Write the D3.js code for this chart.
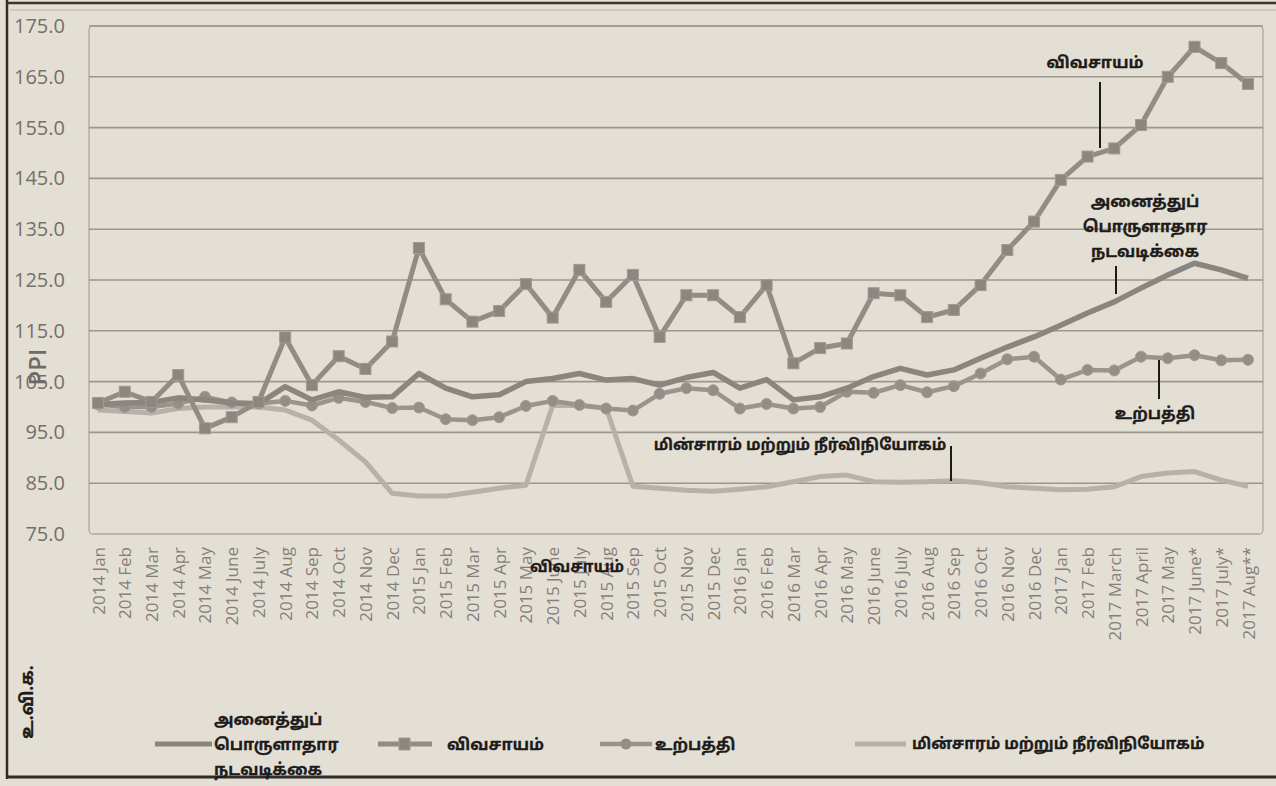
<!DOCTYPE html>
<html>
<head>
<meta charset="utf-8">
<script src="https://cdn.jsdelivr.net/npm/d3@7"></script>
<style>
  html, body { margin: 0; padding: 0; background: #e4dfd5; }
  svg { display: block; }
  .tam { font-family: "Noto Sans Tamil", "Latha", "Lohit Tamil", "Noto Sans", sans-serif; font-weight: bold; fill: #1e1c1a; stroke: #1e1c1a; stroke-width: 0.3; }
</style>
</head>
<body>
<svg id="chart" width="1276" height="786"></svg>
<script>
// ---------- data ----------
const categories = ["2014 Jan","2014 Feb","2014 Mar","2014 Apr","2014 May","2014 June","2014 July","2014 Aug","2014 Sep","2014 Oct","2014 Nov","2014 Dec",
  "2015 Jan","2015 Feb","2015 Mar","2015 Apr","2015 May","2015 June","2015 July","2015 Aug","2015 Sep","2015 Oct","2015 Nov","2015 Dec",
  "2016 Jan","2016 Feb","2016 Mar","2016 Apr","2016 May","2016 June","2016 July","2016 Aug","2016 Sep","2016 Oct","2016 Nov","2016 Dec",
  "2017 Jan","2017 Feb","2017 March","2017 April","2017 May","2017 June*","2017 July*","2017 Aug**"];

const economy = [100.5,100.8,100.9,101.8,101.4,100.8,100.6,104.0,101.4,103.0,101.9,102.0,
  106.6,103.7,102.0,102.4,105.0,105.6,106.6,105.3,105.6,104.3,105.8,106.8,
  103.7,105.4,101.4,102.0,103.7,106.0,107.6,106.3,107.3,109.6,111.8,113.8,
  116.1,118.5,120.7,123.4,126.0,128.3,127.0,125.3];

const agriculture = [100.8,103.0,101.0,106.3,95.8,98.0,101.0,113.7,104.3,110.0,107.5,112.9,
  131.3,121.2,116.8,118.9,124.2,117.6,127.0,120.7,126.0,113.8,122.0,122.0,
  117.7,124.0,108.6,111.6,112.5,122.4,122.0,117.7,119.1,124.0,130.9,136.5,
  144.7,149.3,150.9,155.5,165.0,170.9,167.7,163.6];

const manufacturing = [100.5,100.0,100.0,100.7,102.0,100.9,100.7,101.2,100.3,101.8,101.0,99.8,
  99.9,97.6,97.4,98.0,100.2,101.2,100.4,99.7,99.3,102.6,103.7,103.3,
  99.7,100.6,99.7,100.0,103.0,102.8,104.3,102.9,104.1,106.6,109.4,109.9,
  105.4,107.3,107.2,109.9,109.6,110.2,109.2,109.3];

const electricity = [99.4,99.1,98.8,99.7,100.0,100.0,100.0,99.4,97.4,93.5,89.2,83.0,
  82.5,82.5,83.2,84.0,84.6,100.3,100.3,99.8,84.4,84.0,83.6,83.4,
  83.8,84.3,85.3,86.3,86.6,85.3,85.2,85.3,85.5,85.1,84.3,84.0,
  83.7,83.8,84.3,86.3,87.0,87.3,85.6,84.4];

const yTicks = [75,85,95,105,115,125,135,145,155,165,175];

const legendNames = ["அனைத்துப் பொருளாதார நடவடிக்கை", "விவசாயம்", "உற்பத்தி", "மின்சாரம் மற்றும் நீர்விநியோகம்"];
const yAxisTitle = "PPI";
const sourceText = "உ.வி.க.";

// ---------- layout ----------
const svg = d3.select("#chart");
const plot = {left: 89, right: 1263, top: 26, bottom: 534};

const x = d3.scalePoint().domain(categories).range([98, 1248]);
const y = d3.scaleLinear().domain([75, 175]).range([534, 26]);

// frame
svg.append("line").attr("x1", 7).attr("x2", 7).attr("y1", 0).attr("y2", 779)
  .attr("stroke", "#2e2b28").attr("stroke-width", 2.5);
svg.append("line").attr("x1", 6).attr("x2", 1276).attr("y1", 3).attr("y2", 3)
  .attr("stroke", "#3a3733").attr("stroke-width", 2.5);
svg.append("line").attr("x1", 10).attr("x2", 1276).attr("y1", 10).attr("y2", 10)
  .attr("stroke", "#b9b3aa").attr("stroke-width", 1);
svg.append("line").attr("x1", 6).attr("x2", 1276).attr("y1", 777).attr("y2", 777)
  .attr("stroke", "#2e2b28").attr("stroke-width", 3);

// plot border
svg.append("rect").attr("x", plot.left).attr("y", plot.top)
  .attr("width", plot.right - plot.left).attr("height", plot.bottom - plot.top)
  .attr("rx", 4).attr("fill", "none").attr("stroke", "#aca69e").attr("stroke-width", 1.3);

// gridlines
svg.append("g").selectAll("line").data(yTicks.filter(t => t > 75)).join("line")
  .attr("x1", plot.left).attr("x2", plot.right)
  .attr("y1", d => y(d)).attr("y2", d => y(d))
  .attr("stroke", "#9c968f").attr("stroke-width", 1.6);

// y axis labels
const yAxis = d3.axisLeft(y).tickValues(yTicks).tickFormat(d3.format(".1f")).tickSize(0).tickPadding(0);
const gy = svg.append("g").attr("transform", "translate(65,0)").call(yAxis);
gy.select(".domain").remove();
gy.selectAll("text").attr("font-family", "'Open Sans', sans-serif").attr("font-size", 20)
  .attr("fill", "#746f69");

// x axis labels
const xAxis = d3.axisBottom(x).tickSize(0).tickPadding(0);
const gx = svg.append("g").attr("transform", `translate(0,${plot.bottom})`).call(xAxis);
gx.select(".domain").remove();
gx.selectAll("text")
  .attr("font-family", "'Open Sans', sans-serif").attr("font-size", 17).attr("fill", "#857f79")
  .attr("text-anchor", "end").attr("dy", null)
  .attr("transform", "translate(6,13) rotate(-90)")
  .attr("x", 0).attr("y", 0);

// y title
svg.append("text").attr("transform", "translate(46,367) rotate(-90)")
  .attr("text-anchor", "middle").attr("font-family", "'Open Sans', sans-serif")
  .attr("font-size", 24).attr("font-weight", 600).attr("fill", "#6f6a64").text(yAxisTitle);

// ---------- series ----------
const line = d3.line().x((d, i) => x(categories[i])).y(d => y(d));

svg.append("path").datum(electricity).attr("d", line).attr("fill", "none")
  .attr("stroke", "#b7b1a9").attr("stroke-width", 5).attr("stroke-linejoin", "round");

svg.append("path").datum(manufacturing).attr("d", line).attr("fill", "none")
  .attr("stroke", "#9a948e").attr("stroke-width", 4.5).attr("stroke-linejoin", "round");
svg.append("g").selectAll("circle").data(manufacturing).join("circle")
  .attr("cx", (d, i) => x(categories[i])).attr("cy", d => y(d)).attr("r", 5.5)
  .attr("fill", "#948e88").attr("stroke", "#a19b95").attr("stroke-width", 1);

svg.append("path").datum(economy).attr("d", line).attr("fill", "none")
  .attr("stroke", "#8b8580").attr("stroke-width", 5.5).attr("stroke-linejoin", "round");

svg.append("path").datum(agriculture).attr("d", line).attr("fill", "none")
  .attr("stroke", "#928c87").attr("stroke-width", 5).attr("stroke-linejoin", "round");
svg.append("g").selectAll("rect").data(agriculture).join("rect")
  .attr("x", (d, i) => x(categories[i]) - 5.5).attr("y", d => y(d) - 5.5)
  .attr("width", 11).attr("height", 11)
  .attr("fill", "#8c8681").attr("stroke", "#a09a94").attr("stroke-width", 1);

// ---------- annotations ----------
function ann(lines, cx, cy0, lh, size) {
  const t = svg.append("text").attr("class", "tam").attr("text-anchor", "middle")
    .attr("font-size", size);
  lines.forEach((s, k) => t.append("tspan").attr("x", cx).attr("y", cy0 + k * lh).attr("dy", "0.35em").text(s));
}
function leader(x0, y0, y1) {
  svg.append("line").attr("x1", x0).attr("x2", x0).attr("y1", y0).attr("y2", y1)
    .attr("stroke", "#1e1c1a").attr("stroke-width", 2);
}
const econWords = legendNames[0].split(" ");
ann([legendNames[1]], 1095, 62, 0, 16);
leader(1100, 82, 148);
ann(econWords, 1145, 201, 25, 16);
leader(1116, 266, 294);
ann([legendNames[2]], 1155, 413, 0, 16);
leader(1159, 360, 399);
ann([legendNames[3]], 800, 445, 0, 15.5);
leader(951, 446, 481);
ann([legendNames[1]], 577, 567, 0, 15.5);

// source
svg.append("text").attr("class", "tam").attr("font-size", 17)
  .attr("transform", "translate(27,702) rotate(-90)").attr("text-anchor", "middle")
  .attr("dy", "0.35em").text(sourceText);

// ---------- legend ----------
const lg = svg.append("g");
const ly = 744;
// item 1
lg.append("line").attr("x1", 155).attr("x2", 212).attr("y1", ly).attr("y2", ly)
  .attr("stroke", "#8b8580").attr("stroke-width", 5);
const t1 = lg.append("text").attr("class", "tam").attr("font-size", 16);
econWords.forEach((s, k) => t1.append("tspan").attr("x", 214).attr("y", ly - 25 + k * 25).attr("dy", "0.35em").text(s));
// item 2
lg.append("line").attr("x1", 378).attr("x2", 432).attr("y1", ly).attr("y2", ly)
  .attr("stroke", "#928c87").attr("stroke-width", 5);
lg.append("rect").attr("x", 399).attr("y", ly - 6).attr("width", 11).attr("height", 12)
  .attr("fill", "#8c8681").attr("stroke", "#a09a94");
lg.append("text").attr("class", "tam").attr("font-size", 16).attr("x", 447).attr("y", ly).attr("dy", "0.35em").text(legendNames[1]);
// item 3
lg.append("line").attr("x1", 600).attr("x2", 652).attr("y1", ly).attr("y2", ly)
  .attr("stroke", "#9a948e").attr("stroke-width", 4.5);
lg.append("circle").attr("cx", 626).attr("cy", ly).attr("r", 5.5).attr("fill", "#948e88");
lg.append("text").attr("class", "tam").attr("font-size", 16).attr("x", 655).attr("y", ly).attr("dy", "0.35em").text(legendNames[2]);
// item 4
lg.append("line").attr("x1", 855).attr("x2", 906).attr("y1", ly).attr("y2", ly)
  .attr("stroke", "#b7b1a9").attr("stroke-width", 5);
lg.append("text").attr("class", "tam").attr("font-size", 15.5).attr("x", 912).attr("y", ly).attr("dy", "0.35em").text(legendNames[3]);
</script>
</body>
</html>
